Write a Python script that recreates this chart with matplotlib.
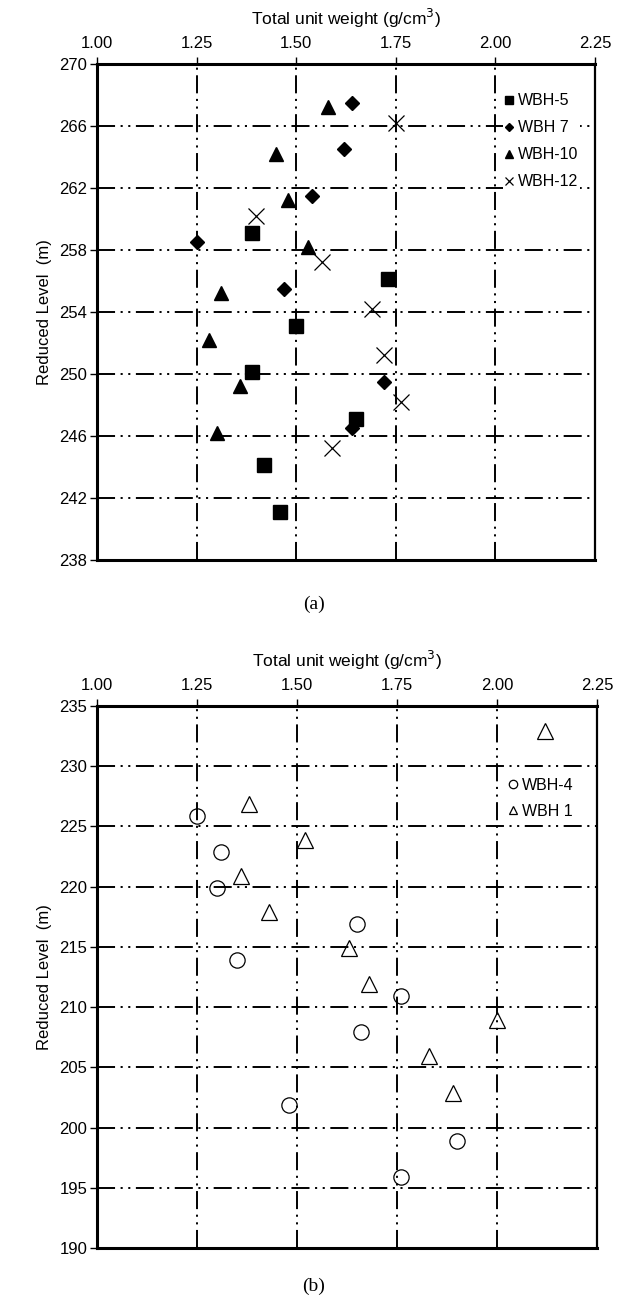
import matplotlib
matplotlib.use('Agg')
import matplotlib.pyplot as plt

plt.rcParams['font.family'] = ['Liberation Sans', 'DejaVu Sans']
plt.rcParams['lines.scale_dashes'] = False

# painel (a)
wbh5_x = [1.39, 1.73, 1.50, 1.39, 1.65, 1.42, 1.46]
wbh5_y = [259.1, 256.1, 253.1, 250.1, 247.1, 244.1, 241.1]

wbh7_x = [1.64, 1.62, 1.54, 1.25, 1.47, 1.72, 1.64]
wbh7_y = [267.5, 264.5, 261.5, 258.5, 255.5, 249.5, 246.5]

wbh10_x = [1.58, 1.45, 1.48, 1.53, 1.31, 1.28, 1.36, 1.30]
wbh10_y = [267.2, 264.2, 261.2, 258.2, 255.2, 252.2, 249.2, 246.2]

wbh12_x = [1.75, 1.40, 1.565, 1.69, 1.72, 1.763, 1.59]
wbh12_y = [266.2, 260.2, 257.2, 254.2, 251.2, 248.2, 245.2]

# painel (b)
wbh4_x = [1.25, 1.31, 1.30, 1.65, 1.35, 1.76, 1.66, 1.48, 1.90, 1.76]
wbh4_y = [225.9, 222.9, 219.9, 216.9, 213.9, 210.9, 207.9, 201.9, 198.9, 195.9]

wbh1_x = [2.12, 1.38, 1.52, 1.36, 1.43, 1.63, 1.68, 2.00, 1.83, 1.89]
wbh1_y = [232.9, 226.9, 223.9, 220.9, 217.9, 214.9, 211.9, 208.9, 205.9, 202.9]

x_ticks = [1.00, 1.25, 1.50, 1.75, 2.00, 2.25]
y_ticks_a = list(range(238, 271, 4))
y_ticks_b = list(range(190, 236, 5))

# tracejado longo-ponto-ponto das linhas de grade
grid_style = (0, (13, 4, 1.5, 4, 1.5, 4))


def style_axis(ax, yticks):
    ax.set_xlim(1.0, 2.25)
    ax.set_ylim(yticks[0], yticks[-1])
    ax.set_xticks(x_ticks)
    ax.set_xticklabels(['%.2f' % v for v in x_ticks])
    ax.set_yticks(yticks)
    ax.xaxis.tick_top()
    ax.xaxis.set_label_position('top')
    ax.tick_params(axis='both', direction='out', length=5, width=1,
                   labelsize=12, pad=2, color='black')
    ax.tick_params(axis='x', pad=4)
    ax.grid(True, color='black', linestyle=grid_style, linewidth=1.4)
    for side in ['top', 'left', 'bottom']:
        ax.spines[side].set_linewidth(2.2)
    ax.spines['right'].set_linewidth(1.6)
    ax.set_xlabel('Total unit weight (g/cm$^3$)', fontsize=12.5, labelpad=8)
    ax.set_ylabel('Reduced Level  (m)', fontsize=12, labelpad=5)
    ax.set_axisbelow(True)


def add_legend(ax, anchor, spacing):
    leg = ax.legend(loc='upper left', bbox_to_anchor=anchor, frameon=True,
                    fontsize=11.5, markerscale=0.55, handlelength=0.6,
                    handletextpad=0.25, labelspacing=spacing, borderpad=0.1,
                    borderaxespad=0, fancybox=False)
    leg.get_frame().set_facecolor('white')
    leg.get_frame().set_edgecolor('none')
    leg.get_frame().set_alpha(1)
    return leg


fig = plt.figure(figsize=(6.28, 13.02), dpi=100)

# Grafico (a)
ax1 = fig.add_axes([97 / 628, 1 - 560 / 1302, 498 / 628, 496 / 1302])
style_axis(ax1, y_ticks_a)
ax1.plot(wbh5_x, wbh5_y, 's', color='black', markersize=10.5, linestyle='none', label='WBH-5')
ax1.plot(wbh7_x, wbh7_y, 'D', color='black', markersize=7.2, linestyle='none', label='WBH 7')
ax1.plot(wbh10_x, wbh10_y, '^', color='black', markersize=10.3, linestyle='none', label='WBH-10')
ax1.plot(wbh12_x, wbh12_y, 'x', color='black', markersize=11, markeredgewidth=0.9,
         linestyle='none', label='WBH-12')
add_legend(ax1, (0.815, 0.944), 0.75)
fig.text(0.5, 1 - 604 / 1302, '(a)', ha='center', va='center',
         fontsize=14, family='Liberation Serif')

# Grafico (b)
ax2 = fig.add_axes([97 / 628, 1 - 1248 / 1302, 500 / 628, 542 / 1302])
style_axis(ax2, y_ticks_b)
ax2.plot(wbh4_x, wbh4_y, 'o', markerfacecolor='none', markeredgecolor='black',
         markersize=11, markeredgewidth=0.9, linestyle='none', label='WBH-4')
ax2.plot(wbh1_x, wbh1_y, '^', markerfacecolor='none', markeredgecolor='black',
         markersize=11, markeredgewidth=0.9, linestyle='none', label='WBH 1')
add_legend(ax2, (0.82, 0.871), 0.72)
fig.text(0.5, 1 - 1286 / 1302, '(b)', ha='center', va='center',
         fontsize=14, family='Liberation Serif')

fig.savefig('out.png', dpi=100, facecolor='white')
